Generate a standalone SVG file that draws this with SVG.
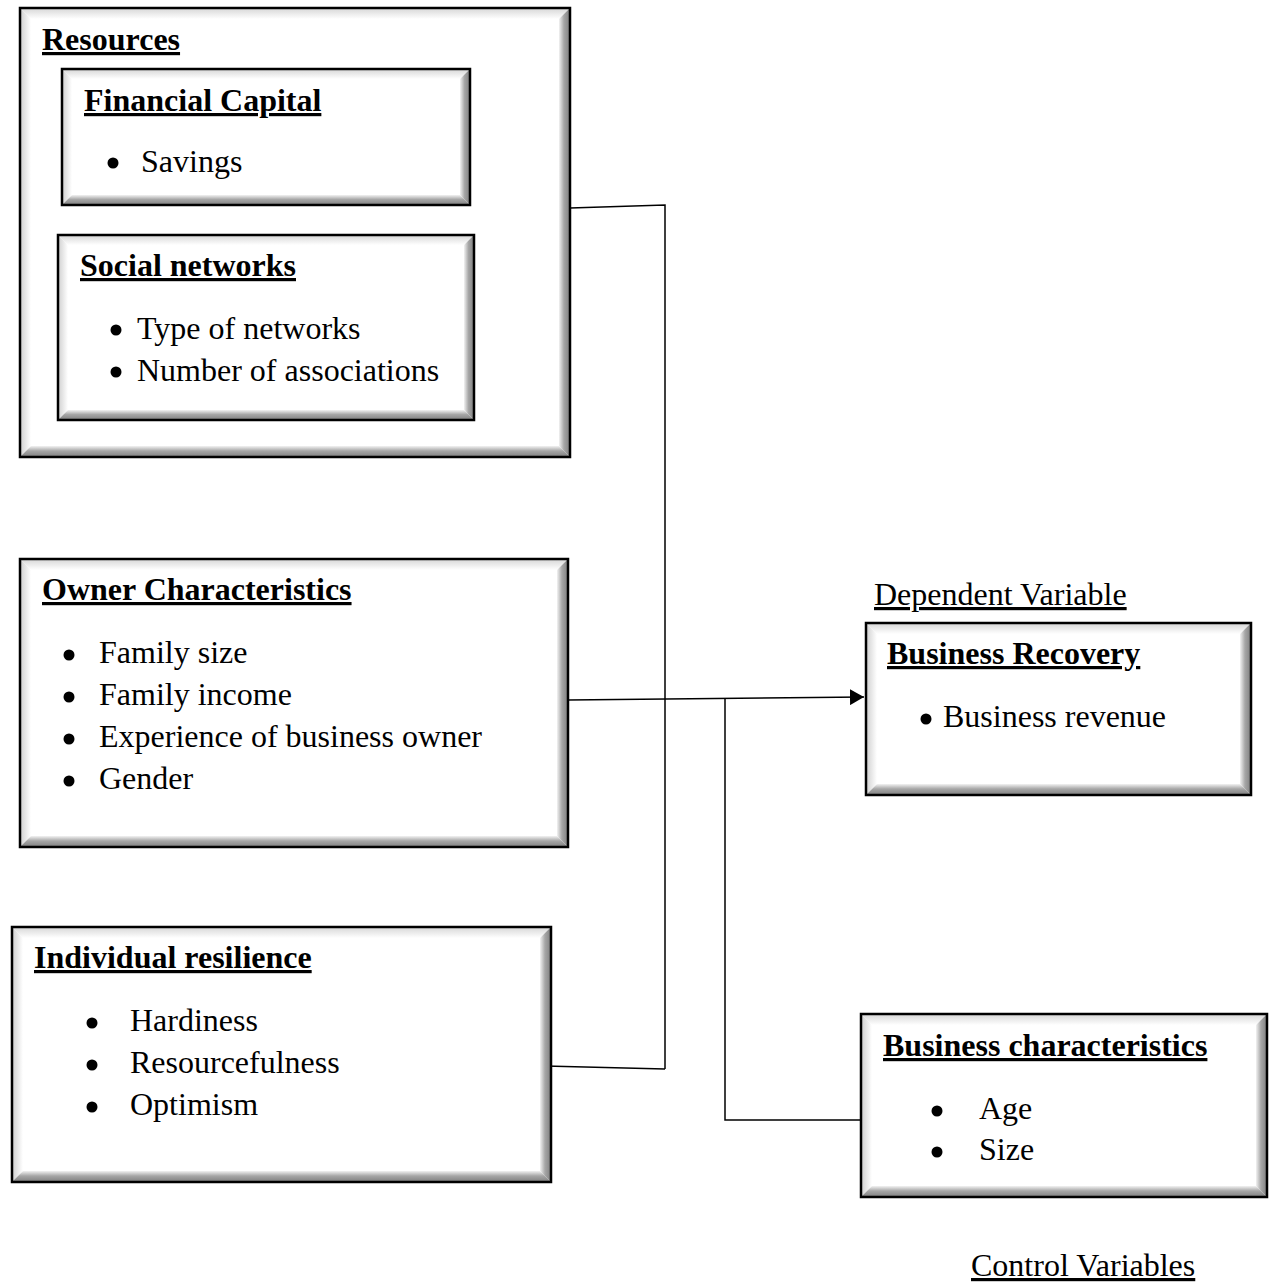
<svg xmlns="http://www.w3.org/2000/svg" width="1269" height="1283" viewBox="0 0 1269 1283">
<style>
.t{font-family:"Liberation Serif","Times New Roman",serif;font-size:32px;fill:#000}
.h{font-weight:bold;text-decoration:underline}
.u{text-decoration:underline}
.gt{fill:url(#gTop)}
.gl{fill:url(#gLeft)}
.gr{fill:url(#gRight)}
.gb{fill:url(#gBottom)}
.bd{fill:none;stroke:#000;stroke-width:2.5}
.in{fill:#fff}
.c{fill:none;stroke:#000;stroke-width:1.5}
.bl{fill:#000}
</style>
<defs>
<linearGradient id="gTop" x1="0" y1="0" x2="0" y2="1"><stop offset="0" stop-color="#d6d6d6"/><stop offset="1" stop-color="#ffffff"/></linearGradient>
<linearGradient id="gLeft" x1="0" y1="0" x2="1" y2="0"><stop offset="0" stop-color="#cfcfcf"/><stop offset="1" stop-color="#ffffff"/></linearGradient>
<linearGradient id="gRight" x1="0" y1="0" x2="1" y2="0"><stop offset="0" stop-color="#f2f2f2"/><stop offset="0.45" stop-color="#a6a6a6"/><stop offset="1" stop-color="#7f7f7f"/></linearGradient>
<linearGradient id="gBottom" x1="0" y1="0" x2="0" y2="1"><stop offset="0" stop-color="#f2f2f2"/><stop offset="0.45" stop-color="#a6a6a6"/><stop offset="1" stop-color="#7f7f7f"/></linearGradient>
<marker id="arr" viewBox="0 0 14 16" refX="14" refY="8" markerWidth="14" markerHeight="16" orient="auto" markerUnits="userSpaceOnUse"><path d="M0,0 L14,8 L0,16 z" fill="#000"/></marker>
</defs>
<rect width="1269" height="1283" fill="#fff"/>

<g id="connectors">
<polyline class="c" points="570,208 665,205 665,1069"/>
<polyline class="c" points="545,1066 665,1069"/>
<line class="c" x1="568" y1="700" x2="864" y2="697" marker-end="url(#arr)"/>
<polyline class="c" points="725,698 725,1120 861,1120"/>
</g>

<g id="resources">
<rect class="in" x="20" y="8" width="550" height="449"/>
<polygon class="gt" points="20,8 570,8 559,19 31,19"/>
<polygon class="gl" points="20,8 31,19 31,446 20,457"/>
<polygon class="gr" points="570,8 570,457 559,446 559,19"/>
<polygon class="gb" points="20,457 570,457 559,446 31,446"/>
<rect class="bd" x="20" y="8" width="550" height="449"/>
<text class="t h" x="42" y="50">Resources</text>
</g>

<g id="financial-capital">
<rect class="in" x="62" y="69" width="408" height="136"/>
<polygon class="gt" points="62,69 470,69 460,79 72,79"/>
<polygon class="gl" points="62,69 72,79 72,195 62,205"/>
<polygon class="gr" points="470,69 470,205 460,195 460,79"/>
<polygon class="gb" points="62,205 470,205 460,195 72,195"/>
<rect class="bd" x="62" y="69" width="408" height="136"/>
<text class="t h" x="84" y="111">Financial Capital</text>
<circle class="bl" cx="113" cy="163" r="5.5"/>
<text class="t" x="141" y="172">Savings</text>
</g>

<g id="social-networks">
<rect class="in" x="58" y="235" width="416" height="185"/>
<polygon class="gt" points="58,235 474,235 464,245 68,245"/>
<polygon class="gl" points="58,235 68,245 68,410 58,420"/>
<polygon class="gr" points="474,235 474,420 464,410 464,245"/>
<polygon class="gb" points="58,420 474,420 464,410 68,410"/>
<rect class="bd" x="58" y="235" width="416" height="185"/>
<text class="t h" x="80" y="276">Social networks</text>
<circle class="bl" cx="116" cy="330" r="5.5"/>
<text class="t" x="137" y="339">Type of networks</text>
<circle class="bl" cx="116" cy="372" r="5.5"/>
<text class="t" x="137" y="381">Number of associations</text>
</g>

<g id="owner-characteristics">
<rect class="in" x="20" y="559" width="548" height="288"/>
<polygon class="gt" points="20,559 568,559 557,570 31,570"/>
<polygon class="gl" points="20,559 31,570 31,836 20,847"/>
<polygon class="gr" points="568,559 568,847 557,836 557,570"/>
<polygon class="gb" points="20,847 568,847 557,836 31,836"/>
<rect class="bd" x="20" y="559" width="548" height="288"/>
<text class="t h" x="42" y="600">Owner Characteristics</text>
<circle class="bl" cx="69" cy="655" r="5.5"/>
<text class="t" x="99" y="663">Family size</text>
<circle class="bl" cx="69" cy="697" r="5.5"/>
<text class="t" x="99" y="705">Family income</text>
<circle class="bl" cx="69" cy="739" r="5.5"/>
<text class="t" x="99" y="747">Experience of business owner</text>
<circle class="bl" cx="69" cy="781" r="5.5"/>
<text class="t" x="99" y="789">Gender</text>
</g>

<g id="individual-resilience">
<rect class="in" x="12" y="927" width="539" height="255"/>
<polygon class="gt" points="12,927 551,927 540,938 23,938"/>
<polygon class="gl" points="12,927 23,938 23,1171 12,1182"/>
<polygon class="gr" points="551,927 551,1182 540,1171 540,938"/>
<polygon class="gb" points="12,1182 551,1182 540,1171 23,1171"/>
<rect class="bd" x="12" y="927" width="539" height="255"/>
<text class="t h" x="34" y="968">Individual resilience</text>
<circle class="bl" cx="92" cy="1023" r="5.5"/>
<text class="t" x="130" y="1031">Hardiness</text>
<circle class="bl" cx="92" cy="1065" r="5.5"/>
<text class="t" x="130" y="1073">Resourcefulness</text>
<circle class="bl" cx="92" cy="1107" r="5.5"/>
<text class="t" x="130" y="1115">Optimism</text>
</g>

<g id="dependent-label">
<text class="t u" x="874" y="605">Dependent Variable</text>
</g>

<g id="business-recovery">
<rect class="in" x="866" y="623" width="385" height="172"/>
<polygon class="gt" points="866,623 1251,623 1240,634 877,634"/>
<polygon class="gl" points="866,623 877,634 877,784 866,795"/>
<polygon class="gr" points="1251,623 1251,795 1240,784 1240,634"/>
<polygon class="gb" points="866,795 1251,795 1240,784 877,784"/>
<rect class="bd" x="866" y="623" width="385" height="172"/>
<text class="t h" x="887" y="664">Business Recovery</text>
<circle class="bl" cx="926" cy="719" r="5.5"/>
<text class="t" x="943" y="727">Business revenue</text>
</g>

<g id="business-characteristics">
<rect class="in" x="861" y="1014" width="406" height="183"/>
<polygon class="gt" points="861,1014 1267,1014 1256,1025 872,1025"/>
<polygon class="gl" points="861,1014 872,1025 872,1186 861,1197"/>
<polygon class="gr" points="1267,1014 1267,1197 1256,1186 1256,1025"/>
<polygon class="gb" points="861,1197 1267,1197 1256,1186 872,1186"/>
<rect class="bd" x="861" y="1014" width="406" height="183"/>
<text class="t h" x="883" y="1056">Business characteristics</text>
<circle class="bl" cx="937" cy="1111" r="5.5"/>
<text class="t" x="979" y="1119">Age</text>
<circle class="bl" cx="937" cy="1152" r="5.5"/>
<text class="t" x="979" y="1160">Size</text>
</g>

<g id="control-label">
<text class="t u" x="971" y="1276">Control Variables</text>
</g>
</svg>
